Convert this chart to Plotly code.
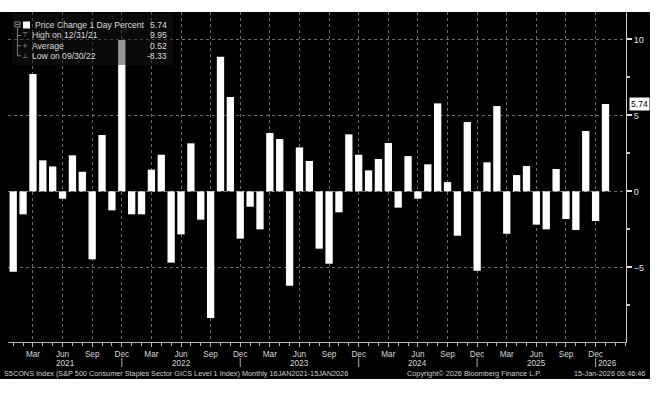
import plotly.graph_objects as go

# ---------------- data ----------------
months = [
    "2021-01", "2021-02", "2021-03", "2021-04", "2021-05", "2021-06",
    "2021-07", "2021-08", "2021-09", "2021-10", "2021-11", "2021-12",
    "2022-01", "2022-02", "2022-03", "2022-04", "2022-05", "2022-06",
    "2022-07", "2022-08", "2022-09", "2022-10", "2022-11", "2022-12",
    "2023-01", "2023-02", "2023-03", "2023-04", "2023-05", "2023-06",
    "2023-07", "2023-08", "2023-09", "2023-10", "2023-11", "2023-12",
    "2024-01", "2024-02", "2024-03", "2024-04", "2024-05", "2024-06",
    "2024-07", "2024-08", "2024-09", "2024-10", "2024-11", "2024-12",
    "2025-01", "2025-02", "2025-03", "2025-04", "2025-05", "2025-06",
    "2025-07", "2025-08", "2025-09", "2025-10", "2025-11", "2025-12",
    "2026-01",
]
pct_change = [
    -5.29, -1.51, 7.72, 2.04, 1.64, -0.48, 2.37, 1.29, -4.47, 3.71, -1.25, 9.95,
    -1.51, -1.51, 1.43, 2.41, -4.69, -2.83, 3.16, -1.86, -8.33, 8.86, 6.21, -3.11,
    -1.01, -2.50, 3.84, 3.44, -6.21, 2.89, 2.00, -3.77, -4.76, -1.38, 3.75, 2.41,
    1.38, 2.13, 3.18, -1.07, 2.32, -0.48, 1.78, 5.79, 0.61, -2.92, 4.56, -5.22,
    1.91, 5.61, -2.79, 1.07, 1.67, -2.19, -2.50, 1.47, -1.82, -2.54, 3.97, -1.95,
    5.74,
]
month_abbr = {3: "Mar", 6: "Jun", 9: "Sep", 12: "Dec"}
legend_labels = ["Price Change 1 Day Percent", "High on 12/31/21", "Average", "Low on 09/30/22"]
legend_values = ["5.74", "9.95", "0.52", "-8.33"]
legend_icons = ["", "\u22a4", "+", "\u22a5"]
footer_left = "S5CONS Index (S&P 500 Consumer Staples Sector GICS Level 1 Index) Monthly 16JAN2021-15JAN2026"
footer_mid = "Copyright\u00a9 2026 Bloomberg Finance L.P."
footer_right = "15-Jan-2026 06:46:46"

# ---------------- geometry ----------------
W, H = 657, 396
L, R, T, B = 8, 31, 12, 54
PW, PH = W - L - R, H - T - B
FONT = "Liberation Sans"


def px(x):
    return (x - L) / PW


def py(y):
    return (H - B - y) / PH


idx = list(range(len(months)))
XR = [-0.527, 62.08]
YR = [-9.91, 11.80]

tickvals = [i for i, m in enumerate(months) if int(m[5:]) in month_abbr]
ticktext = [month_abbr[int(months[i][5:])] for i in tickvals]

fig = go.Figure(
    go.Bar(
        x=idx,
        y=pct_change,
        width=0.74,
        marker=dict(color="white", line=dict(width=0)),
        hoverinfo="x+y",
    )
)

shapes = []
annotations = []

# black Bloomberg panel
shapes.append(dict(type="rect", xref="paper", yref="paper", x0=px(0), x1=px(650),
                   y0=py(379), y1=py(12), fillcolor="black", line=dict(width=0), layer="below"))

# legend panel (semi-transparent, above bars)
shapes.append(dict(type="rect", xref="paper", yref="paper", x0=px(12), x1=px(173),
                   y0=py(65), y1=py(13), fillcolor="rgba(22,22,22,0.45)",
                   line=dict(width=0), layer="above"))
# tree icon
shapes.append(dict(type="rect", xref="paper", yref="paper", x0=px(15), x1=px(20),
                   y0=py(27), y1=py(22), fillcolor="rgba(0,0,0,0)",
                   line=dict(color="#8a8a8a", width=1), layer="above"))
shapes.append(dict(type="line", xref="paper", yref="paper", x0=px(16), x1=px(19),
                   y0=py(24.5), y1=py(24.5), line=dict(color="#8a8a8a", width=1), layer="above"))
shapes.append(dict(type="rect", xref="paper", yref="paper", x0=px(23), x1=px(30),
                   y0=py(28.5), y1=py(21.5), fillcolor="white", line=dict(width=0), layer="above"))
shapes.append(dict(type="line", xref="paper", yref="paper", x0=px(17.5), x1=px(17.5),
                   y0=py(28), y1=py(56), line=dict(color="#7a7a7a", width=1), layer="above"))

line_y = [25, 35.5, 45.7, 55.8]
for k, (lab, val, ic) in enumerate(zip(legend_labels, legend_values, legend_icons)):
    x_lab = 33 if k == 0 else 29.5
    annotations.append(dict(xref="paper", yref="paper", x=px(x_lab), y=py(line_y[k]),
                            text=lab, showarrow=False, xanchor="left", yanchor="middle",
                            font=dict(family=FONT, size=8.6, color="#dedede")))
    annotations.append(dict(xref="paper", yref="paper", x=px(168.5), y=py(line_y[k]),
                            text=val, showarrow=False, xanchor="right", yanchor="middle",
                            font=dict(family=FONT, size=8.6, color="#dedede")))
    if ic:
        shapes.append(dict(type="line", xref="paper", yref="paper", x0=px(17.5), x1=px(21),
                           y0=py(line_y[k]), y1=py(line_y[k]),
                           line=dict(color="#7a7a7a", width=1), layer="above"))
        annotations.append(dict(xref="paper", yref="paper", x=px(24.5), y=py(line_y[k]),
                                text=ic, showarrow=False, xanchor="center", yanchor="middle",
                                font=dict(family="DejaVu Sans", size=7, color="#9a9a9a")))

# last value tag on the right axis
annotations.append(dict(xref="paper", yref="y", x=1.0, y=pct_change[-1], xshift=3,
                        text=f"{pct_change[-1]:.2f}", showarrow=False, xanchor="left",
                        yanchor="middle", bgcolor="white", borderpad=1,
                        font=dict(family=FONT, size=8.6, color="black")))

# year labels and separators
dec_idx = [i for i, m in enumerate(months) if m.endswith("-12")]
bounds = [XR[0] + 0.03] + dec_idx + [XR[1] - 0.6]
years = sorted({m[:4] for m in months})
for k, yr in enumerate(years):
    annotations.append(dict(xref="x", yref="paper", x=(bounds[k] + bounds[k + 1]) / 2,
                            y=py(363), text=yr, showarrow=False, xanchor="center",
                            yanchor="middle", font=dict(family=FONT, size=8.2, color="#d8d8d8")))
for d in dec_idx:
    shapes.append(dict(type="line", xref="x", yref="paper", x0=d, x1=d,
                       y0=py(358), y1=py(367), line=dict(color="#b0b0b0", width=1)))

# footer
for text, x, anchor in [(footer_left, 1.5, "left"), (footer_mid, 405, "left"),
                        (footer_right, 647, "right")]:
    annotations.append(dict(xref="paper", yref="paper", x=px(x), y=py(373.5), text=text,
                            showarrow=False, xanchor=anchor, yanchor="middle",
                            font=dict(family=FONT, size=7.3, color="#cfcfcf")))

fig.update_layout(
    width=W, height=H,
    margin=dict(l=L, r=R, t=T, b=B, pad=0),
    paper_bgcolor="white",
    plot_bgcolor="black",
    showlegend=False,
    shapes=shapes,
    annotations=annotations,
    xaxis=dict(
        range=XR, tickmode="array", tickvals=tickvals, ticktext=ticktext,
        showgrid=True, gridcolor="#6c6c6c", griddash="dot", gridwidth=1,
        zeroline=False, showline=True, linecolor="#b4b4b4", linewidth=1,
        ticks="outside", ticklen=4, tickcolor="#b4b4b4",
        tickfont=dict(family=FONT, size=8.2, color="#d8d8d8"),
        minor=dict(tickmode="linear", tick0=0, dtick=1, ticks="outside", ticklen=3,
                   tickcolor="#b4b4b4", showgrid=False),
        fixedrange=True,
    ),
    yaxis=dict(
        side="right", range=YR, tickmode="linear", tick0=0, dtick=5,
        showgrid=True, gridcolor="#6c6c6c", griddash="dot", gridwidth=1,
        zeroline=False, showline=True, linecolor="#c8c8c8", linewidth=1,
        ticks="outside", ticklen=5, tickwidth=2, tickcolor="#e0e0e0",
        tickfont=dict(family=FONT, size=9, color="#e0e0e0"),
        minor=dict(tickmode="linear", tick0=0, dtick=2.5, ticks="outside", ticklen=3,
                   tickcolor="#c8c8c8", showgrid=False),
        fixedrange=True,
    ),
)

fig.write_html(
    "out.html",
    config={"displayModeBar": False},
    post_script="document.body.style.margin='0';document.body.style.overflow='hidden';",
)
